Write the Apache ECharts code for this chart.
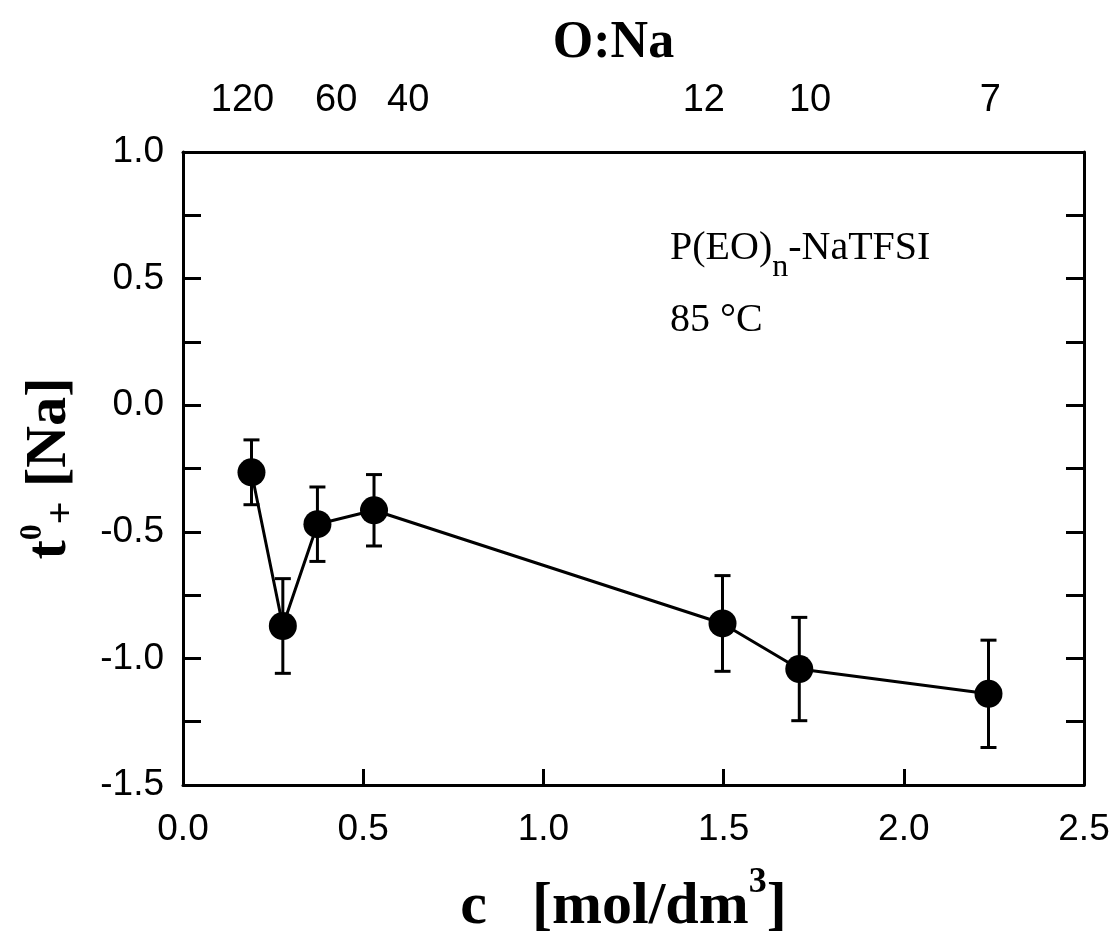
<!DOCTYPE html>
<html><head><meta charset="utf-8">
<script src="https://cdn.jsdelivr.net/npm/echarts@6/dist/echarts.min.js"></script>
<style>html,body{margin:0;padding:0;background:#fff}#c{width:1117px;height:937px}</style>
</head><body><div id="c"></div>
<script>
// Data
const concentration = [0.19, 0.277, 0.373, 0.53, 1.497, 1.71, 2.235];   // c [mol/dm3]
const tPlus = [-0.265, -0.872, -0.47, -0.415, -0.862, -1.042, -1.14];   // t0+ [Na]
const tErr = [0.128, 0.187, 0.147, 0.141, 0.189, 0.204, 0.212];         // error bar half-widths
const oNaLabels = ['120', '60', '40', '12', '10', '7'];                 // top axis labels
const oNaPositions = [0.165, 0.425, 0.625, 1.445, 1.74, 2.24];          // their c positions

const sans = "'Liberation Sans', Arial, sans-serif";
const serif = "'Liberation Serif', 'Times New Roman', serif";

const chart = echarts.init(document.getElementById('c'), null, {renderer: 'canvas'});

const lineData = concentration.map((c, i) => [c, tPlus[i]]);
const errData = concentration.map((c, i) => [c, tPlus[i] - tErr[i], tPlus[i] + tErr[i]]);

const axisLineStyle = {color: '#000', width: 3};

chart.setOption({
  animation: false,
  backgroundColor: '#fff',
  grid: {left: 183, right: 33, top: 152, bottom: 152, containLabel: false, outerBoundsMode: 'none'},
  xAxis: [
    {
      type: 'value', position: 'bottom', min: 0, max: 2.5, interval: 0.5,
      axisLine: {show: true, onZero: false, lineStyle: axisLineStyle},
      axisTick: {show: true, inside: true, length: 16, lineStyle: {color: '#000', width: 3}},
      splitLine: {show: false},
      axisLabel: {color: '#000', fontFamily: sans, fontSize: 37, margin: 26,
        formatter: v => v.toFixed(1)},
      name: '{a|c   [mol/dm}{s|3}{a|]}',
      nameLocation: 'middle', nameGap: 80,
      nameTextStyle: {
        padding: [0, 20, 0, 0],
        rich: {
          a: {fontFamily: serif, fontWeight: 'bold', fontSize: 60, color: '#000', lineHeight: 72, verticalAlign: 'bottom'},
          s: {fontFamily: serif, fontWeight: 'bold', fontSize: 36, color: '#000', lineHeight: 72, verticalAlign: 'top'}
        }
      }
    },
    {
      type: 'value', position: 'top', min: 0, max: 2.5,
      axisLine: {show: true, onZero: false, lineStyle: axisLineStyle},
      axisTick: {show: false},
      splitLine: {show: false},
      axisLabel: {
        color: '#000', fontFamily: sans, fontSize: 38, margin: 32,
        customValues: oNaPositions,
        formatter: v => {
          const i = oNaPositions.findIndex(p => Math.abs(p - v) < 1e-6);
          return i >= 0 ? oNaLabels[i] : '';
        }
      },
      name: 'O:Na', nameLocation: 'middle', nameGap: 82,
      nameTextStyle: {fontFamily: serif, fontWeight: 'bold', fontSize: 52, color: '#000', padding: [0, 40, 0, 0]}
    }
  ],
  yAxis: [
    {
      type: 'value', position: 'left', min: -1.5, max: 1.0, interval: 0.25,
      axisLine: {show: true, onZero: false, lineStyle: axisLineStyle},
      axisTick: {show: true, inside: true, length: 18, lineStyle: {color: '#000', width: 3}},
      splitLine: {show: false},
      axisLabel: {
        color: '#000', fontFamily: sans, fontSize: 37, margin: 19,
        formatter: v => (Math.abs(v * 2 - Math.round(v * 2)) < 1e-6 ? (Math.abs(v) < 1e-9 ? '0.0' : v.toFixed(1)) : '')
      },
      name: '{t|t}{p|0}{m|+}{a| [Na]}',
      nameLocation: 'middle', nameRotate: 90, nameGap: 100,
      nameTextStyle: {
        rich: {
          t: {fontFamily: serif, fontWeight: 'bold', fontSize: 58, color: '#000', lineHeight: 66, verticalAlign: 'middle'},
          p: {fontFamily: serif, fontWeight: 'bold', fontSize: 32, color: '#000', lineHeight: 66, verticalAlign: 'top'},
          m: {fontFamily: serif, fontWeight: 'bold', fontSize: 40, color: '#000', lineHeight: 66, verticalAlign: 'bottom'},
          a: {fontFamily: serif, fontWeight: 'bold', fontSize: 58, color: '#000', lineHeight: 66, verticalAlign: 'middle'}
        }
      }
    },
    {
      type: 'value', position: 'right', min: -1.5, max: 1.0, interval: 0.25,
      axisLine: {show: true, onZero: false, lineStyle: axisLineStyle},
      axisTick: {show: true, inside: true, length: 18, lineStyle: {color: '#000', width: 3}},
      splitLine: {show: false},
      axisLabel: {show: false}
    }
  ],
  graphic: [
    {
      type: 'text', left: 670, top: 228,
      style: {
        text: '{a|P(EO)}{s|n}{a|-NaTFSI}',
        rich: {
          a: {fontFamily: serif, fontSize: 40, fill: '#000', lineHeight: 56, verticalAlign: 'top'},
          s: {fontFamily: serif, fontSize: 32, fill: '#000', lineHeight: 56, verticalAlign: 'bottom'}
        }
      }
    },
    {
      type: 'text', left: 670, top: 300,
      style: {text: '85 °C', fontFamily: serif, fontSize: 40, fill: '#000'}
    }
  ],
  series: [
    {
      type: 'custom', xAxisIndex: 0, yAxisIndex: 0, z: 1,
      data: errData,
      renderItem: (params, api) => {
        const x = api.value(0);
        const lo = api.coord([x, api.value(1)]);
        const hi = api.coord([x, api.value(2)]);
        const w = 8;
        const st = {stroke: '#000', lineWidth: 3};
        return {
          type: 'group',
          children: [
            {type: 'line', shape: {x1: lo[0], y1: lo[1], x2: hi[0], y2: hi[1]}, style: st},
            {type: 'line', shape: {x1: lo[0] - w, y1: lo[1], x2: lo[0] + w, y2: lo[1]}, style: st},
            {type: 'line', shape: {x1: hi[0] - w, y1: hi[1], x2: hi[0] + w, y2: hi[1]}, style: st}
          ]
        };
      }
    },
    {
      type: 'line', xAxisIndex: 0, yAxisIndex: 0, z: 3,
      data: lineData,
      symbol: 'circle', symbolSize: 28,
      lineStyle: {color: '#000', width: 3},
      itemStyle: {color: '#000'}
    }
  ]
});
</script>
</body></html>
